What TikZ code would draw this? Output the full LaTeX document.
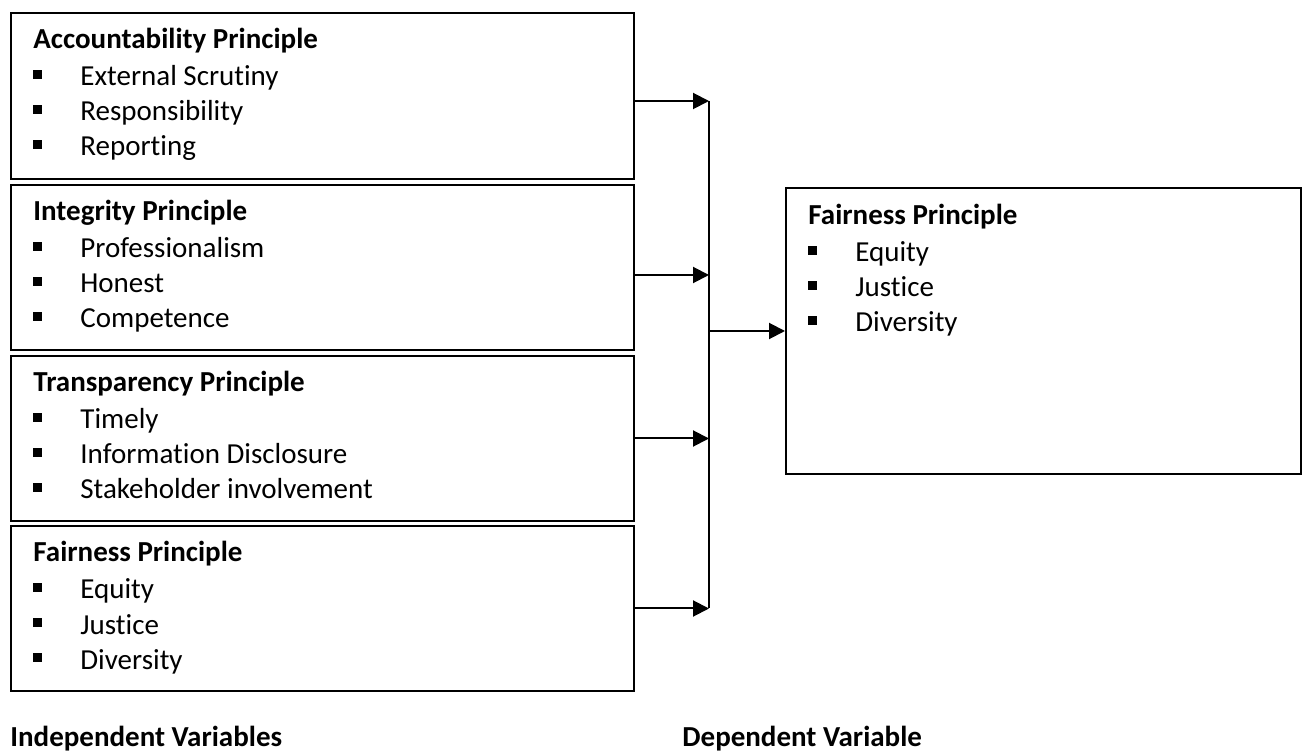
\documentclass[tikz,border=0pt]{standalone}
\usepackage{fontspec}
\setmainfont[Ligatures=NoCommon]{Carlito}
\usetikzlibrary{arrows.meta}
\newcommand\plist[7]{%
  \node[hd] (#1h) at (#2+23,#3+37) {#4};
  \node[bul] (#1p1) at (#2+23,#3+67) {};
  \node[itm] (#1t1) at (#2+70,#3+74) {#5};
  \node[bul] (#1p2) at (#2+23,#3+102) {};
  \node[itm] (#1t2) at (#2+70,#3+109) {#6};
  \node[bul] (#1p3) at (#2+23,#3+137) {};
  \node[itm] (#1t3) at (#2+70,#3+144) {#7};
}
\begin{document}
\begin{tikzpicture}[x=0.5pt,y=-0.5pt,
  box/.style={draw=black, line width=1pt, inner sep=0pt, anchor=north west},
  hd/.style={anchor=base west, inner sep=0pt, font=\fontsize{14.5}{17.5}\selectfont\bfseries},
  itm/.style={anchor=base west, inner sep=0pt, font=\fontsize{14.5}{17.5}\selectfont},
  bul/.style={fill=black, inner sep=0pt, minimum size=4.3pt, anchor=south west},
  arr/.style={line width=1pt, -{Triangle[length=8pt,width=8pt]}},
  ln/.style={line width=1pt}]
\useasboundingbox (0,0) rectangle (1302,753);
% boxes
\node[box, minimum width=311.5pt, minimum height=83pt] (b1) at (10,12) {};
\node[box, minimum width=311.5pt, minimum height=82.5pt] (b2) at (10,184) {};
\node[box, minimum width=311.5pt, minimum height=82.5pt] (b3) at (10,355) {};
\node[box, minimum width=311.5pt, minimum height=82.5pt] (b4) at (10,525) {};
\node[box, minimum width=257.5pt, minimum height=143pt] (rb) at (785,187) {};
% texts
\plist{a}{10}{12}{Accountability Principle}{External Scrutiny}{Responsibility}{Reporting}
\plist{b}{10}{184}{Integrity Principle}{Professionalism}{Honest}{Competence}
\plist{c}{10}{355}{Transparency Principle}{Timely}{Information Disclosure}{Stakeholder involvement}
\plist{d}{10}{525}{Fairness Principle}{Equity}{Justice}{Diversity}
\plist{r}{785}{188}{Fairness Principle}{Equity}{Justice}{Diversity}
\node[hd] (iv) at (10,746) {Independent Variables};
\node[hd] (dv) at (682,746) {Dependent Variable};
% connectors
\coordinate (j) at (709,0);
\coordinate (a1) at ([yshift=-2.5pt]b1.east);
\coordinate (a2) at ([yshift=-3.75pt]b2.east);
\coordinate (a3) at (b3.east);
\coordinate (a4) at (b4.east);
\draw[arr] (a1) -- (a1 -| j);
\draw[arr] (a2) -- (a2 -| j);
\draw[arr] (a3) -- (a3 -| j);
\draw[arr] (a4) -- (a4 -| j);
\draw[ln] (a1 -| j) -- (a4 -| j);
\draw[arr] (rb.west -| j) -- (rb.west);
\end{tikzpicture}
\end{document}
